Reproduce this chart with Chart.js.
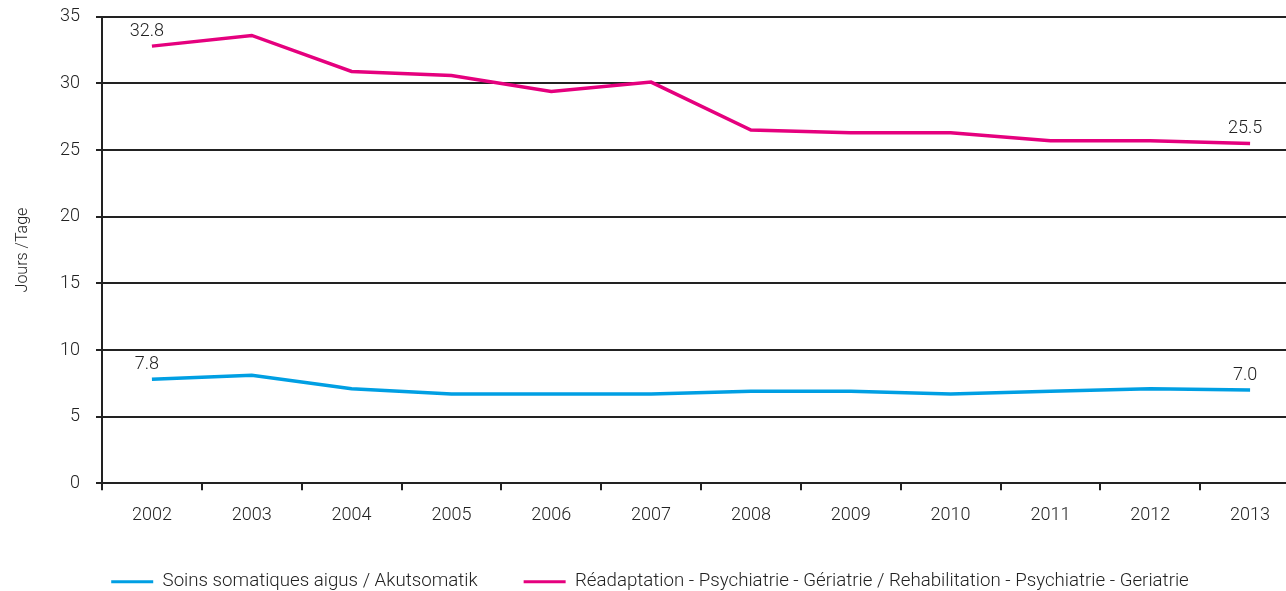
<!DOCTYPE html>
<html>
<head>
<meta charset="utf-8">
<script src="https://cdn.jsdelivr.net/npm/chart.js@4"></script>
<style>
  html, body { margin: 0; padding: 0; background: #fff; overflow: hidden; }
  #wrap { position: relative; width: 1300px; height: 611px; margin-top: -10px; }
</style>
</head>
<body>
<div id="wrap"><canvas id="myChart"></canvas></div>
<script>
const years = ['2002', '2003', '2004', '2005', '2006', '2007', '2008', '2009', '2010', '2011', '2012', '2013'];
const akut = [7.8, 8.1, 7.1, 6.7, 6.7, 6.7, 6.9, 6.9, 6.7, 6.9, 7.1, 7.0];
const reha = [32.8, 33.6, 30.9, 30.6, 29.4, 30.1, 26.5, 26.3, 26.3, 25.7, 25.7, 25.5];
const yTicks = [0, 5, 10, 15, 20, 25, 30, 35];

const FONT = 'Roboto, "Liberation Sans", sans-serif';
const BLUE = '#009fe3';
const PINK = '#e5007e';
const INK = '#222';

// labels at first and last point of each line
const endLabels = {
  id: 'endLabels',
  afterDatasetsDraw(chart) {
    const ctx = chart.ctx;
    ctx.save();
    ctx.font = '300 18px ' + FONT;
    ctx.fillStyle = INK;
    ctx.textAlign = 'center';
    ctx.textBaseline = 'bottom';
    chart.data.datasets.forEach((ds, i) => {
      const pts = chart.getDatasetMeta(i).data;
      [0, pts.length - 1].forEach(j => {
        const p = pts[j];
        ctx.fillText(ds.data[j].toFixed(1), p.x - 5, p.y - 6);
      });
    });
    ctx.restore();
  }
};

const ctx = document.getElementById('myChart');

new Chart(ctx, {
  type: 'line',
  data: {
    labels: years,
    datasets: [
      {
        label: 'Soins somatiques aigus / Akutsomatik',
        data: akut,
        borderColor: BLUE,
        backgroundColor: BLUE,
        borderWidth: 3.5,
        pointRadius: 0,
        tension: 0
      },
      {
        label: 'Réadaptation - Psychiatrie - Gériatrie / Rehabilitation - Psychiatrie - Geriatrie',
        data: reha,
        borderColor: PINK,
        backgroundColor: PINK,
        borderWidth: 3.5,
        pointRadius: 0,
        tension: 0
      }
    ]
  },
  options: {
    responsive: true,
    maintainAspectRatio: false,
    animation: false,
    layout: { padding: { top: 8, left: 0, right: 0, bottom: 0 } },
    plugins: {
      tooltip: { enabled: false },
      legend: {
        position: 'bottom',
        labels: {
          color: INK,
          font: { family: FONT, size: 18.7, weight: '300' },
          boxWidth: 42,
          boxHeight: 3,
          padding: 46,
          generateLabels(chart) {
            return chart.data.datasets.map((ds, i) => ({
              text: ds.label,
              fillStyle: ds.borderColor,
              strokeStyle: ds.borderColor,
              lineWidth: 0,
              fontColor: INK,
              datasetIndex: i,
              hidden: false
            }));
          }
        }
      }
    },
    scales: {
      x: {
        offset: true,
        border: { display: true, color: INK, width: 2 },
        grid: {
          display: true,
          drawOnChartArea: false,
          drawTicks: true,
          tickLength: 7,
          color: INK,
          lineWidth: 2,
          offset: true
        },
        ticks: {
          color: INK,
          font: { family: FONT, size: 18, weight: '300' },
          padding: 14,
          maxRotation: 0,
          autoSkip: false
        },
        afterFit(scale) { scale.height = 43; }
      },
      y: {
        min: 0,
        max: 35,
        afterBuildTicks(scale) { scale.ticks = yTicks.map(v => ({ value: v })); },
        border: { display: true, color: INK, width: 2 },
        grid: {
          color: INK,
          lineWidth: 2,
          drawTicks: true,
          tickLength: 6
        },
        ticks: {
          color: INK,
          font: { family: FONT, size: 18, weight: '300' },
          padding: 16
        },
        title: {
          display: true,
          text: 'Jours /Tage',
          color: INK,
          font: { family: FONT, size: 16, weight: '300' },
          padding: { top: 13, bottom: 0 }
        },
        afterFit(scale) { scale.width = 102; }
      }
    }
  },
  plugins: [endLabels]
});
</script>
</body>
</html>
